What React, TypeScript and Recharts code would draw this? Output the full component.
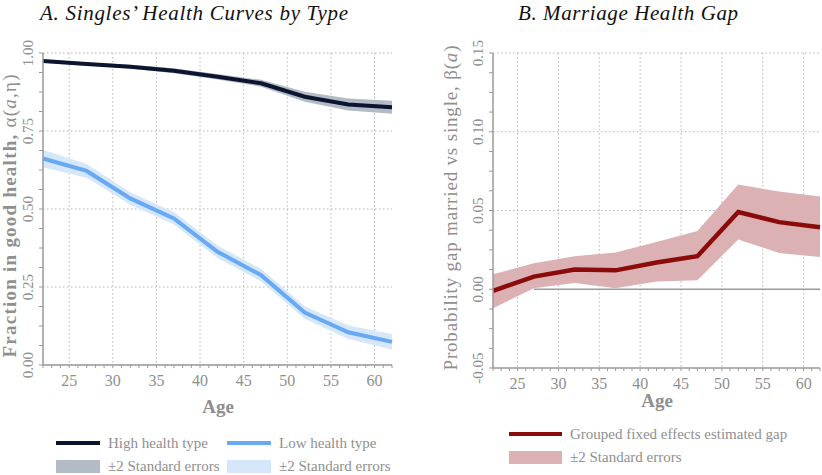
import React from 'react';
import { ComposedChart, Line, Area, XAxis, YAxis, CartesianGrid, ReferenceLine } from 'recharts';

// ages at which the curves are estimated
const ages = [22, 27, 32, 37, 42, 47, 52, 57, 62];

// panel A: singles' health by type
const highHealth = [0.974, 0.965, 0.956, 0.943, 0.924, 0.903, 0.86, 0.835, 0.826];
const highLower = [0.969, 0.96, 0.95, 0.935, 0.915, 0.892, 0.844, 0.816, 0.805];
const highUpper = [0.979, 0.97, 0.962, 0.951, 0.933, 0.914, 0.876, 0.854, 0.847];
const lowHealth = [0.662, 0.622, 0.534, 0.47, 0.363, 0.288, 0.168, 0.105, 0.074];
const lowLower = [0.634, 0.6, 0.514, 0.45, 0.343, 0.268, 0.148, 0.083, 0.05];
const lowUpper = [0.69, 0.644, 0.554, 0.49, 0.383, 0.308, 0.188, 0.127, 0.099];

// panel B: marriage health gap
const gap = [-0.001, 0.008, 0.0125, 0.012, 0.017, 0.021, 0.049, 0.0426, 0.0394];
const gapLower = [-0.012, 0.0006, 0.004, 0.0006, 0.005, 0.0057, 0.0316, 0.023, 0.0204];
const gapUpper = [0.0095, 0.0165, 0.021, 0.0234, 0.03, 0.037, 0.0665, 0.062, 0.0589];

// ticks
const ageTicks = Array.from({ length: 41 }, (_, i) => 22 + i);
const ageLabels = [25, 30, 35, 40, 45, 50, 55, 60];
const healthTicks = Array.from({ length: 17 }, (_, i) => i / 16);
const healthLabels = [0, 0.25, 0.5, 0.75, 1];
const gapTicks = Array.from({ length: 17 }, (_, i) => -0.05 + i * 0.0125);
const gapLabels = [-0.05, 0, 0.05, 0.1, 0.15];

const healthData = ages.map((age, i) => ({
  age,
  high: highHealth[i],
  highBand: [highLower[i], highUpper[i]],
  low: lowHealth[i],
  lowBand: [lowLower[i], lowUpper[i]],
}));

const gapData = ages.map((age, i) => ({
  age,
  gap: gap[i],
  gapBand: [gapLower[i], gapUpper[i]],
}));

const FONT = '"Liberation Serif", "Times New Roman", serif';
const GRAY = '#8f8f8f';
const AXIS = '#9a9a9a';

const XTick = ({ x, y, payload }: any) => {
  const v = payload.value;
  const show = ageLabels.includes(v);
  return (
    <g>
      <line x1={x} x2={x} y1={y} y2={y + 3} stroke={AXIS} strokeWidth={1} />
      {show && (
        <text x={x} y={y + 21} textAnchor="middle" fontSize={16} fill={GRAY} fontFamily={FONT}>
          {v}
        </text>
      )}
    </g>
  );
};

const YTick = ({ x, y, payload, labels }: any) => {
  const v = payload.value;
  const show = labels.some((l: number) => Math.abs(l - v) < 1e-6);
  const tx = x - 10;
  return (
    <g>
      <line x1={x} x2={x - 4} y1={y} y2={y} stroke={AXIS} strokeWidth={1} />
      {show && (
        <text
          x={tx}
          y={y}
          transform={`rotate(-90, ${tx}, ${y})`}
          textAnchor="middle"
          fontSize={15}
          fill={GRAY}
          fontFamily={FONT}
        >
          {v.toFixed(2)}
        </text>
      )}
    </g>
  );
};

const LegendLine = ({ color, w = 44 }: { color: string; w?: number }) => (
  <span style={{ display: 'inline-block', width: w, height: 4, background: color, marginRight: 8, verticalAlign: 'middle' }} />
);
const LegendBox = ({ color, w = 44 }: { color: string; w?: number }) => (
  <span style={{ display: 'inline-block', width: w, height: 13, background: color, marginRight: 8, verticalAlign: 'middle' }} />
);

const legendText: React.CSSProperties = { fontFamily: FONT, fontSize: 15, color: GRAY, verticalAlign: 'middle' };

export default function App() {
  return (
    <div style={{ position: 'absolute', left: 0, top: 0, width: 822, height: 475, background: '#fff', overflow: 'hidden', fontFamily: FONT }}>
      {/* panel A */}
      <div style={{ position: 'absolute', left: 0, top: 0 }}>
        <ComposedChart width={420} height={475} data={healthData} margin={{ top: 53, left: 13, right: 28, bottom: 80 }}>
          <CartesianGrid
            stroke="#b4b4b4"
            strokeDasharray="1.5 2.5"
            verticalValues={ageLabels}
            horizontalValues={healthLabels}
          />
          <XAxis
            dataKey="age"
            type="number"
            domain={[22, 62]}
            ticks={ageTicks}
            interval={0}
            height={30}
            tickSize={0}
            tickMargin={0}
            tick={<XTick />}
            axisLine={{ stroke: AXIS, strokeWidth: 1.5 }}
            tickLine={false}
          />
          <YAxis
            type="number"
            domain={[0, 1]}
            ticks={healthTicks}
            interval={0}
            width={30}
            tickSize={0}
            tickMargin={0}
            tick={<YTick labels={healthLabels} />}
            axisLine={{ stroke: AXIS, strokeWidth: 1.5 }}
            tickLine={false}
          />
          <Area dataKey="highBand" type="linear" stroke="none" fill="#b3bbc6" fillOpacity={1} isAnimationActive={false} />
          <Area dataKey="lowBand" type="linear" stroke="none" fill="#d6e6fb" fillOpacity={1} isAnimationActive={false} />
          <Line dataKey="high" type="linear" stroke="#0b1530" strokeWidth={4} dot={false} isAnimationActive={false} />
          <Line dataKey="low" type="linear" stroke="#68a9f5" strokeWidth={4} dot={false} isAnimationActive={false} />
        </ComposedChart>
      </div>

      {/* panel B */}
      <div style={{ position: 'absolute', left: 420, top: 0 }}>
        <ComposedChart width={402} height={475} data={gapData} margin={{ top: 53, left: 43, right: 2, bottom: 77 }}>
          <CartesianGrid
            stroke="#b4b4b4"
            strokeDasharray="1.5 2.5"
            verticalValues={ageLabels}
            horizontalValues={[0.05, 0.1, 0.15]}
          />
          <XAxis
            dataKey="age"
            type="number"
            domain={[22, 62]}
            ticks={ageTicks}
            interval={0}
            height={30}
            tickSize={0}
            tickMargin={0}
            tick={<XTick />}
            axisLine={{ stroke: AXIS, strokeWidth: 1.5 }}
            tickLine={false}
          />
          <YAxis
            type="number"
            domain={[-0.05, 0.15]}
            ticks={gapTicks}
            interval={0}
            width={30}
            tickSize={0}
            tickMargin={0}
            tick={<YTick labels={gapLabels} />}
            axisLine={{ stroke: AXIS, strokeWidth: 1.5 }}
            tickLine={false}
          />
          <Area dataKey="gapBand" type="linear" stroke="none" fill="#dcb1b3" fillOpacity={1} isAnimationActive={false} />
          <ReferenceLine segment={[{ x: 27, y: 0 }, { x: 62, y: 0 }]} stroke={AXIS} strokeWidth={1.5} />
          <Line dataKey="gap" type="linear" stroke="#8b0a0a" strokeWidth={4.5} dot={false} isAnimationActive={false} />
        </ComposedChart>
      </div>

      {/* titles and axis titles */}
      <svg width={822} height={475} style={{ position: 'absolute', left: 0, top: 0, pointerEvents: 'none' }}>
        <text x={40} y={20} fontSize={21} fontStyle="italic" fill="#111" fontFamily={FONT} textLength={308} lengthAdjust="spacing">
          A. Singles’ Health Curves by Type
        </text>
        <text x={518} y={20} fontSize={21} fontStyle="italic" fill="#111" fontFamily={FONT} textLength={220} lengthAdjust="spacing">
          B. Marriage Health Gap
        </text>
        <text
          x={16}
          y={216}
          transform="rotate(-90, 16, 216)"
          textAnchor="middle"
          fontSize={19}
          fill={GRAY}
          fontFamily={FONT}
          textLength={283}
          lengthAdjust="spacing"
        >
          <tspan fontWeight="bold">Fraction in good health, </tspan>
          <tspan>α(</tspan>
          <tspan fontStyle="italic">a</tspan>
          <tspan>,η)</tspan>
        </text>
        <text
          x={457}
          y={208}
          transform="rotate(-90, 457, 208)"
          textAnchor="middle"
          fontSize={19}
          fill={GRAY}
          fontFamily={FONT}
          textLength={325}
          lengthAdjust="spacing"
        >
          <tspan>Probability gap married vs single, β(</tspan>
          <tspan fontStyle="italic">a</tspan>
          <tspan>)</tspan>
        </text>
        <text x={218} y={413} textAnchor="middle" fontSize={19} fontWeight="bold" fill={GRAY} fontFamily={FONT}>
          Age
        </text>
        <text x={657} y={407} textAnchor="middle" fontSize={19} fontWeight="bold" fill={GRAY} fontFamily={FONT}>
          Age
        </text>
      </svg>

      {/* legends */}
      <div style={{ position: 'absolute', left: 56, top: 432, whiteSpace: 'nowrap', lineHeight: '20px' }}>
        <LegendLine color="#0b1530" />
        <span style={{ ...legendText, display: 'inline-block', width: 119 }}>High health type</span>
        <LegendLine color="#68a9f5" />
        <span style={legendText}>Low health type</span>
      </div>
      <div style={{ position: 'absolute', left: 56, top: 455, whiteSpace: 'nowrap', lineHeight: '20px' }}>
        <LegendBox color="#b3bbc6" />
        <span style={{ ...legendText, display: 'inline-block', width: 119 }}>±2 Standard errors</span>
        <LegendBox color="#d6e6fb" />
        <span style={legendText}>±2 Standard errors</span>
      </div>
      <div style={{ position: 'absolute', left: 509, top: 423, whiteSpace: 'nowrap', lineHeight: '20px' }}>
        <LegendLine color="#8b0a0a" w={53} />
        <span style={legendText}>Grouped fixed effects estimated gap</span>
      </div>
      <div style={{ position: 'absolute', left: 509, top: 446, whiteSpace: 'nowrap', lineHeight: '20px' }}>
        <LegendBox color="#dcb1b3" w={53} />
        <span style={legendText}>±2 Standard errors</span>
      </div>
    </div>
  );
}
